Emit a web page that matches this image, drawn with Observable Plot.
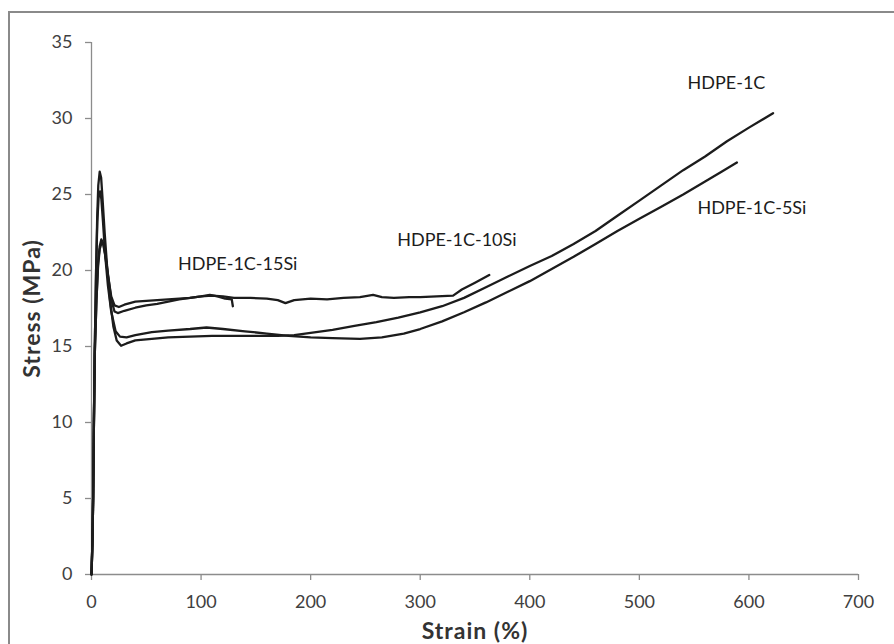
<!DOCTYPE html>
<html>
<head>
<meta charset="utf-8">
<script src="https://cdn.jsdelivr.net/npm/d3@7"></script>
<script src="https://cdn.jsdelivr.net/npm/@observablehq/plot@0.6"></script>
<style>
html, body { margin: 0; padding: 0; background: #fff; overflow: hidden; }
#wrap { position: relative; width: 894px; height: 644px; overflow: hidden; }
#border { position: absolute; left: 8px; top: 11px; width: 1000px; height: 1000px; border: 2px solid #8a8a8a; box-sizing: border-box; pointer-events: none; }
#wrap svg { position: absolute; left: 0; top: 0; }
</style>
</head>
<body>
<div id="wrap"><div id="border"></div></div>
<script>
// ---- data ----
const seriesNames = ["HDPE-1C", "HDPE-1C-5Si", "HDPE-1C-10Si", "HDPE-1C-15Si"];

const strain1C = [0, 0.8, 1.5, 2.2, 3, 4.2, 5.2, 6.2, 7.5, 8.8, 10, 12, 14.5, 17, 20, 23, 27, 32, 40, 55, 70, 90, 110, 130, 150, 170, 185, 200, 220, 240, 260, 280, 300, 320, 340, 360, 380, 400, 420, 440, 460, 480, 500, 520, 540, 560, 580, 600, 622];
const stress1C = [0, 2, 5, 10, 15, 20, 23.5, 25.6, 26.5, 26.1, 24.8, 22.5, 20, 18, 16.3, 15.4, 15.05, 15.2, 15.4, 15.5, 15.6, 15.65, 15.7, 15.7, 15.7, 15.7, 15.75, 15.9, 16.1, 16.35, 16.6, 16.9, 17.25, 17.65, 18.2, 18.9, 19.6, 20.3, 20.95, 21.75, 22.6, 23.6, 24.6, 25.6, 26.6, 27.5, 28.5, 29.4, 30.35];

const strain5Si = [0, 0.8, 1.5, 2.2, 3, 4.2, 5.3, 6.5, 7.8, 9, 10.5, 12.5, 15, 18, 22, 26, 32, 40, 55, 70, 90, 105, 120, 140, 160, 180, 200, 220, 245, 265, 285, 300, 320, 340, 360, 380, 400, 420, 440, 460, 480, 500, 520, 540, 560, 575, 589];
const stress5Si = [0, 2, 5, 10, 15, 20, 23.2, 24.8, 25.2, 24.7, 23.2, 21, 19, 17.3, 16, 15.65, 15.6, 15.75, 15.95, 16.05, 16.15, 16.25, 16.15, 16.0, 15.85, 15.7, 15.6, 15.55, 15.5, 15.6, 15.85, 16.15, 16.65, 17.25, 17.9, 18.6, 19.3, 20.1, 20.9, 21.75, 22.6, 23.4, 24.2, 25.0, 25.85, 26.5, 27.1];

const strain10Si = [0, 0.8, 1.5, 2.2, 3, 4.5, 6, 7.5, 9, 10.5, 12.5, 15, 18, 21, 25, 30, 40, 50, 60, 70, 80, 90, 100, 110, 120, 130, 145, 160, 170, 177, 185, 200, 215, 230, 245, 257, 265, 276, 290, 300, 315, 330, 338, 350, 363];
const stress10Si = [0, 2, 5, 10, 14.5, 18, 20.5, 21.6, 22.05, 21.8, 21, 19.7, 18.3, 17.7, 17.6, 17.75, 17.95, 18.0, 18.05, 18.1, 18.15, 18.2, 18.3, 18.35, 18.3, 18.2, 18.2, 18.15, 18.05, 17.85, 18.05, 18.15, 18.1, 18.2, 18.25, 18.4, 18.25, 18.2, 18.25, 18.25, 18.3, 18.35, 18.75, 19.2, 19.7];

const strain15Si = [0, 0.8, 1.5, 2.2, 3, 4.5, 6, 7.5, 9.5, 11, 13, 15.5, 18, 21, 24, 30, 40, 50, 60, 70, 80, 90, 100, 108, 115, 122, 128, 129];
const stress15Si = [0, 2, 5, 10, 14.5, 18, 20.3, 21.4, 21.9, 21.7, 20.9, 19.5, 18.1, 17.3, 17.2, 17.35, 17.55, 17.7, 17.8, 17.95, 18.1, 18.2, 18.3, 18.4, 18.3, 18.15, 18.1, 17.65];

const labelNames = ["HDPE-1C", "HDPE-1C-5Si", "HDPE-1C-10Si", "HDPE-1C-15Si"];
const labelStrain = [544, 553, 279, 79];
const labelStress = [32.3, 24.1, 22.0, 20.4];

const xTicks = [0, 100, 200, 300, 400, 500, 600, 700];
const yTicks = [0, 5, 10, 15, 20, 25, 30, 35];

const xTitle = "Strain (%)";
const yTitle = "Stress (MPa)";

// ---- build rows ----
const seriesStrain = [strain1C, strain5Si, strain10Si, strain15Si];
const seriesStress = [stress1C, stress5Si, stress10Si, stress15Si];
const rows = [];
seriesNames.forEach((name, i) => {
  seriesStrain[i].forEach((s, j) => rows.push({series: name, strain: s, stress: seriesStress[i][j]}));
});

const axisGray = "#8c8c8c";
const tickText = "#404040";

const chart = Plot.plot({
  width: 894,
  height: 644,
  marginLeft: 91,
  marginRight: 36,
  marginTop: 42,
  marginBottom: 70,
  style: {fontFamily: "Lato, sans-serif", fontSize: "18px", background: "transparent", color: "#222"},
  x: {domain: [0, 700]},
  y: {domain: [0, 35]},
  marks: [
    Plot.ruleY([0], {stroke: axisGray, strokeWidth: 1.3}),
    Plot.ruleX([0], {stroke: axisGray, strokeWidth: 1.3}),
    Plot.axisX({ticks: xTicks, tickSize: 6, tickPadding: 15, stroke: axisGray, strokeWidth: 1.3, fill: tickText, fontSize: 18, label: null, tickFormat: d => String(d)}),
    Plot.axisY({ticks: yTicks, tickSize: 6, tickPadding: 13, stroke: axisGray, strokeWidth: 1.3, fill: tickText, fontSize: 18, label: null, tickFormat: d => String(d)}),
    Plot.line(rows, {x: "strain", y: "stress", z: "series", stroke: "#1c1c1c", strokeWidth: 2.3, strokeLinejoin: "round", strokeLinecap: "round"}),
    Plot.text(labelNames, {x: labelStrain, y: labelStress, text: d => d, textAnchor: "start", fontSize: 18, fill: "#1c1c1c"}),
    Plot.text([xTitle], {frameAnchor: "bottom", dy: 57.5, text: d => d, textAnchor: "middle", lineAnchor: "middle", fontWeight: "bold", fontSize: 23, fill: "#333"}),
    Plot.text([yTitle], {frameAnchor: "left", dx: -59, rotate: -90, text: d => d, textAnchor: "middle", lineAnchor: "middle", fontWeight: "bold", fontSize: 23, fill: "#333"})
  ]
});
d3.select(chart).selectAll("text")
  .filter(function () { return this.textContent === xTitle || this.textContent === yTitle; })
  .attr("letter-spacing", "1px");
document.getElementById("wrap").appendChild(chart);
</script>
</body>
</html>
